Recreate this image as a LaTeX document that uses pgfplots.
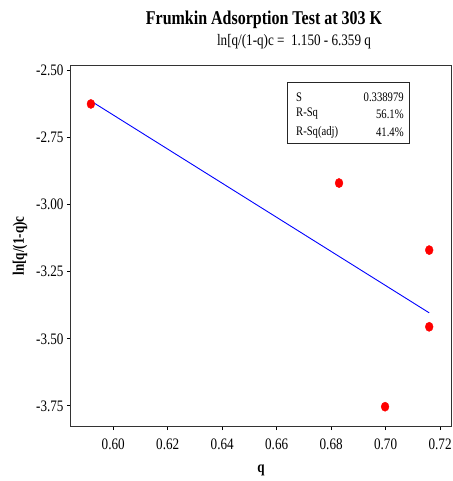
\documentclass[border=0pt]{standalone}
\usepackage{fontspec}
\setmainfont{Liberation Serif}[FakeStretch=0.82]
\usepackage{pgfplots}
\pgfplotsset{compat=1.18}
\begin{document}
\begin{tikzpicture}
\begin{axis}[
  at={(0,0)}, anchor=south west,
  scale only axis, width=380bp, height=360bp,
  xmin=0.5845, xmax=0.724, ymin=-3.825, ymax=-2.4825,
  xtick={0.60,0.62,0.64,0.66,0.68,0.70,0.72},
  ytick={-3.75,-3.50,-3.25,-3.00,-2.75,-2.50},
  tick pos=left, tick align=outside,
  major tick length=4bp,
  tick style={black, line width=0.8bp},
  axis line style={line width=1bp, black!80},
  /pgf/number format/assume math mode=true,
  xticklabel style={/pgf/number format/.cd, fixed, fixed zerofill, precision=2, /tikz/yshift=-5bp},
  yticklabel style={/pgf/number format/.cd, fixed, fixed zerofill, precision=2},
  ticklabel style={font=\fontsize{16bp}{18bp}\selectfont},
  xlabel={\textbf{q}},
  ylabel={\textbf{ln[q/(1-q)c}},
  label style={font=\fontsize{16bp}{18bp}\selectfont},
  xlabel style={yshift=-9bp},
  ylabel style={yshift=2bp},
  clip=false,
]
\addplot[blue, line width=0.9bp] coordinates {(0.5918,-2.613) (0.7160,-3.403)};
\addplot[only marks, mark=*, mark size=4.6bp, mark options={fill=red, draw=red, xscale=0.85}] coordinates {
  (0.5918,-2.624) (0.6829,-2.919) (0.7160,-3.169) (0.7160,-3.455) (0.6998,-3.753)};
\draw[line width=1bp, black!85] (rel axis cs:0.571,0.786) rectangle (rel axis cs:0.892,0.953);
\node[anchor=west, font=\fontsize{13bp}{15bp}\selectfont, inner sep=0pt] at (rel axis cs:0.592,0.914) {S};
\node[anchor=west, font=\fontsize{13bp}{15bp}\selectfont, inner sep=0pt] at (rel axis cs:0.592,0.867) {R-Sq};
\node[anchor=west, font=\fontsize{13bp}{15bp}\selectfont, inner sep=0pt] at (rel axis cs:0.592,0.817) {R-Sq(adj)};
\node[anchor=east, font=\fontsize{13bp}{15bp}\selectfont, inner sep=0pt] at (rel axis cs:0.876,0.914) {0.338979};
\node[anchor=east, font=\fontsize{13bp}{15bp}\selectfont, inner sep=0pt] at (rel axis cs:0.876,0.867) {56.1\%};
\node[anchor=east, font=\fontsize{13bp}{15bp}\selectfont, inner sep=0pt] at (rel axis cs:0.876,0.817) {41.4\%};
\end{axis}
\node[font=\fontsize{19.5bp}{22bp}\selectfont\bfseries] at (193bp,406bp) {Frumkin Adsorption Test at 303 K};
\node[font=\fontsize{16bp}{18bp}\selectfont] at (223bp,384bp) {ln[q/(1-q)c =\ \ 1.150 - 6.359 q};
\pgfresetboundingbox
\path (-71bp,-55bp) rectangle (382bp,426bp);
\end{tikzpicture}
\end{document}
